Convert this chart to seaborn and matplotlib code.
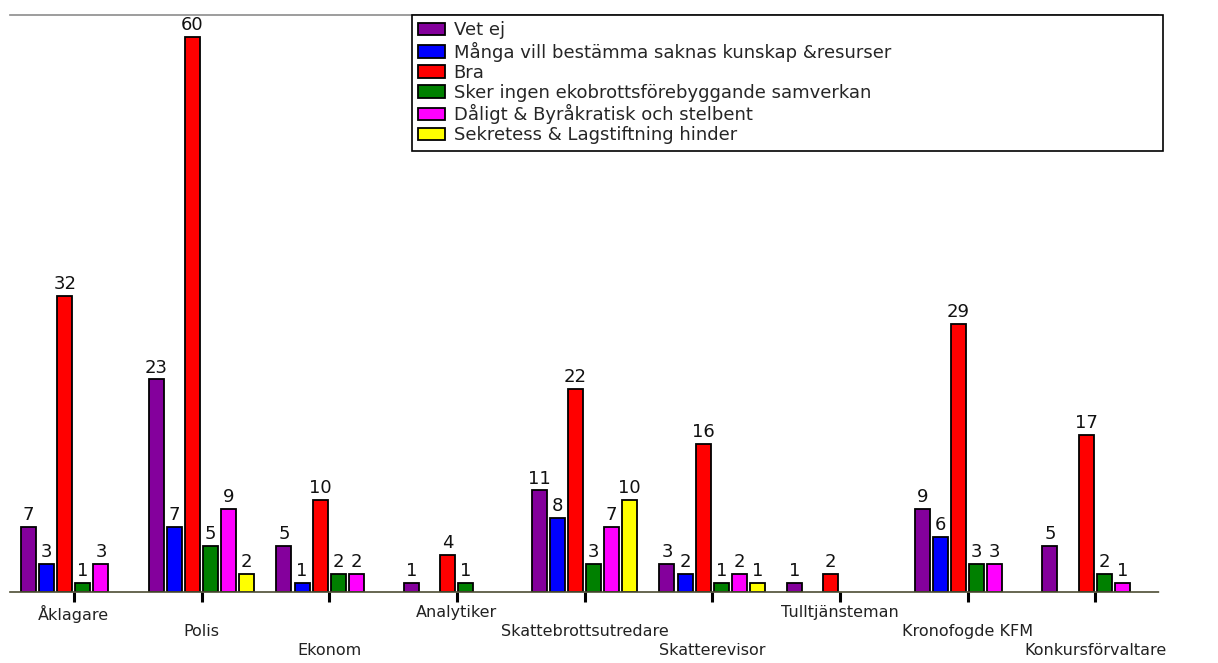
import matplotlib
matplotlib.use("Agg")
import matplotlib.pyplot as plt
import pandas as pd
import seaborn as sns

# Professions along the x axis
categories = ["Åklagare", "Polis", "Ekonom", "Analytiker", "Skattebrottsutredare",
              "Skatterevisor", "Tulltjänsteman", "Kronofogde KFM", "Konkursförvaltare"]

# Answer categories (legend order)
series = ["Vet ej",
          "Många vill bestämma saknas kunskap &resurser",
          "Bra",
          "Sker ingen ekobrottsförebyggande samverkan",
          "Dåligt & Byråkratisk och stelbent",
          "Sekretess & Lagstiftning hinder"]

# Number of answers per profession, one list per answer category
vet_ej = [7, 23, 5, 1, 11, 3, 1, 9, 5]
manga_vill = [3, 7, 1, 0, 8, 2, 0, 6, 0]
bra = [32, 60, 10, 4, 22, 16, 2, 29, 17]
sker_ingen = [1, 5, 2, 1, 3, 1, 0, 3, 2]
daligt = [3, 9, 2, 0, 7, 2, 0, 3, 1]
sekretess = [0, 2, 0, 0, 10, 1, 0, 0, 0]

colors = ["#84009c", "#0000ff", "#ff0000", "#008000", "#ff00ff", "#ffff00"]

values = [vet_ej, manga_vill, bra, sker_ingen, daligt, sekretess]
rows = []
for s, vals in zip(series, values):
    for c, v in zip(categories, vals):
        if v > 0:
            rows.append({"Yrke": c, "Svar": s, "Antal": v})
df = pd.DataFrame(rows)

sns.set_style("white")
plt.rcParams["font.family"] = ["DejaVu Sans"]
FS = 13

fig = plt.figure(figsize=(12.18, 6.63), dpi=100)
ax = fig.add_axes([10 / 1218, 1 - 592 / 663, 1149 / 1218, 577 / 663])

sns.barplot(data=df, x="Yrke", y="Antal", hue="Svar",
            order=categories, hue_order=series, palette=colors,
            saturation=1, width=0.85, gap=0.17, errorbar=None,
            edgecolor="black", linewidth=1.3, ax=ax)

for cont in ax.containers:
    ax.bar_label(cont, fmt="%d", padding=2, fontsize=FS, color="#111111")

ax.set_xlim(-0.5, len(categories) - 0.5)
ax.set_ylim(0, 62.4)
ax.set_yticks([])
ax.set_xlabel("")
ax.set_ylabel("")

# Tick marks under each group; names drawn separately on three staggered rows
ax.set_xticks(range(len(categories)))
ax.tick_params(axis="x", direction="out", length=7.5, width=2.2,
               color="black", bottom=True, labelbottom=False)
row_offsets = [13, 32, 51]  # pixels below the baseline
for i, c in enumerate(categories):
    ax.annotate(c, xy=(i, 0), xycoords=ax.get_xaxis_transform(),
                xytext=(0, -row_offsets[i % 3]), textcoords="offset pixels",
                ha="center", va="top", fontsize=11.5, color="#222222")

for side in ("left", "right"):
    ax.spines[side].set_visible(False)
ax.spines["top"].set_color("#8c8c8c")
ax.spines["top"].set_linestyle((0, (1, 1)))
ax.spines["top"].set_linewidth(1.2)
ax.spines["bottom"].set_color("#4d4d33")
ax.spines["bottom"].set_linestyle((0, (1, 1)))
ax.spines["bottom"].set_linewidth(1.2)

handles, labels = ax.get_legend_handles_labels()
x0 = (412 - 10) / 1149
x1 = (1163 - 10) / 1149
leg = ax.legend(handles, labels, loc="upper left",
                bbox_to_anchor=(x0, 0.5, x1 - x0, 0.5), mode="expand",
                borderaxespad=0, fontsize=FS, frameon=True, fancybox=False,
                edgecolor="black", framealpha=1, borderpad=0.35,
                labelspacing=0.12, handlelength=1.45, handleheight=0.7,
                handletextpad=0.5)
leg.get_frame().set_linewidth(1.2)

fig.savefig("out.png", dpi=100)
